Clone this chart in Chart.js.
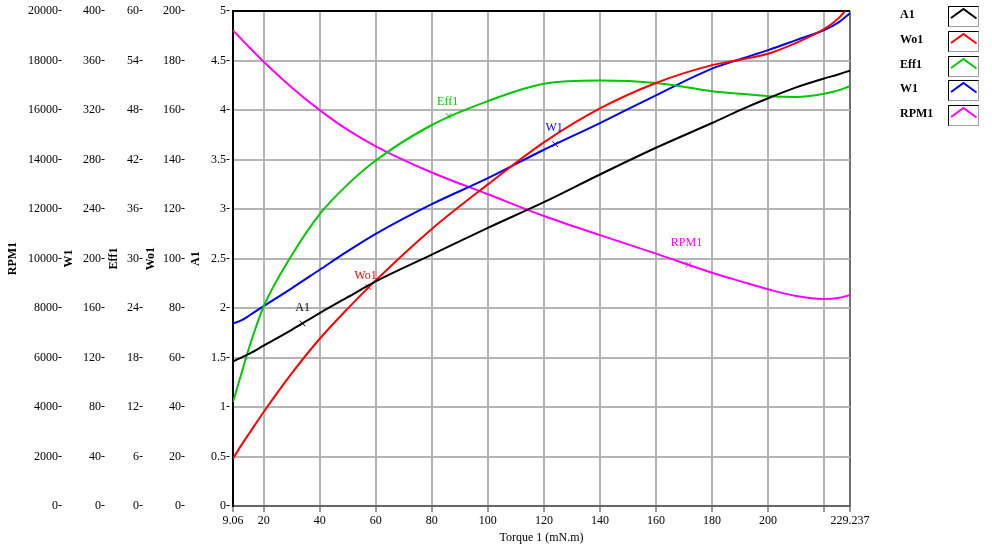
<!DOCTYPE html>
<html>
<head>
<meta charset="utf-8">
<title>Torque curves</title>
<script src="https://cdn.jsdelivr.net/npm/chart.js@4.4.1/dist/chart.umd.min.js"></script>
<style>
  html, body { margin: 0; padding: 0; background: #fff; }
  #wrap { width: 992px; height: 557px; position: relative; }
</style>
</head>
<body>
<div id="wrap"><canvas id="motorChart"></canvas></div>
<script>
  var torque = [9.06, 12, 15, 20, 30, 40, 50, 60, 80, 100, 120, 140, 160, 180, 190, 200, 210, 220, 225, 229.237];
  var a1   = [1.46, 1.50, 1.54, 1.62, 1.78, 1.95, 2.11, 2.27, 2.54, 2.81, 3.07, 3.35, 3.62, 3.87, 4.00, 4.12, 4.23, 4.32, 4.36, 4.40];
  var wo1  = [19.2, 24.5, 29.6, 38, 53.6, 67.6, 79.8, 91.2, 112, 130, 147, 160.7, 171, 178.2, 180.4, 182.8, 187.2, 192.8, 197, 202.4];
  var eff1 = [12.6, 16.0, 19.4, 24.2, 30.4, 35.4, 39.0, 41.9, 46.2, 49.1, 51.2, 51.6, 51.3, 50.3, 50.0, 49.7, 49.6, 50.0, 50.4, 50.9];
  var w1   = [147.6, 150.0, 154.2, 161.6, 176, 191, 206, 220, 244, 265, 288, 309.6, 332, 353.6, 361.2, 368.5, 376.6, 384.8, 390.8, 398.4];
  var rpm1 = [19220, 18880, 18520, 17960, 16920, 16000, 15200, 14540, 13480, 12600, 11720, 10950, 10200, 9430, 9090, 8760, 8485, 8365, 8410, 8525];

  // one labelled "x" marker on every curve
  var markTorque = [33.9, 57.4, 86, 124, 171.6];
  var markValue  = [1.845, 88.5, 47.3, 292.5, 9750];

  // x tick positions (220 has a tick but no label)
  var xTicks = [9.06, 20, 40, 60, 80, 100, 120, 140, 160, 180, 200, 220, 229.237];

  var tickFont = { family: '"Liberation Serif", serif', size: 12 };
  var titleFont = { family: '"Liberation Serif", serif', size: 12, weight: 'bold', lineHeight: 1 };

  // name, values, colour, axis, label offset
  var series = [
    { name: 'A1',   vals: a1,   color: '#000000', axis: 'yA1',  dx: 0,  dy: 16 },
    { name: 'Wo1',  vals: wo1,  color: '#ff0000', axis: 'yWo1', dx: -3, dy: 11 },
    { name: 'Eff1', vals: eff1, color: '#00c800', axis: 'yEff', dx: -1, dy: 14 },
    { name: 'W1',   vals: w1,   color: '#0000ff', axis: 'yW1',  dx: -1, dy: 16 },
    { name: 'RPM1', vals: rpm1, color: '#ff00ff', axis: 'yRpm', dx: -2, dy: 22 }
  ];

  var datasets = series.map(function (s) {
    return {
      label: s.name,
      data: torque.map(function (t, k) { return { x: t, y: s.vals[k] }; }),
      borderColor: s.color,
      backgroundColor: s.color,
      borderWidth: 2,
      pointRadius: 0,
      fill: false,
      cubicInterpolationMode: 'monotone',
      yAxisID: s.axis
    };
  });
  series.forEach(function (s, i) {
    datasets.push({
      label: s.name + ' mark',
      markOf: s.name,
      labelDx: s.dx,
      labelDy: s.dy,
      data: [{ x: markTorque[i], y: markValue[i] }],
      showLine: false,
      borderColor: s.color,
      backgroundColor: s.color,
      pointStyle: 'crossRot',
      pointRadius: 4,
      borderWidth: 1,
      yAxisID: s.axis
    });
  });

  function yAxis(title, max, weight, width, titlePad, tickPad) {
    return {
      type: 'linear',
      position: 'left',
      min: 0,
      max: max,
      weight: weight,
      ticks: {
        stepSize: max / 10,
        padding: tickPad,
        color: '#000',
        font: tickFont,
        callback: function (v) { return v + '-'; }
      },
      grid: { display: false, drawTicks: false },
      border: { display: false },
      title: { display: true, text: title, color: '#000', font: titleFont, padding: { top: titlePad, bottom: 0 } },
      afterFit: function (scale) { scale.width = width; }
    };
  }

  var scales = {
    x: {
      type: 'linear',
      min: 9.06,
      max: 229.237,
      afterBuildTicks: function (scale) {
        scale.ticks = xTicks.map(function (v) { return { value: v }; });
      },
      ticks: {
        autoSkip: false,
        maxRotation: 0,
        padding: 2,
        color: '#000',
        font: tickFont,
        callback: function (v) { return v === 220 ? '' : String(v); }
      },
      grid: {
        color: function (ctx) {
          if (ctx.tick && ctx.tick.value === 229.237) return '#707070';
          if (ctx.tick && ctx.tick.value === 9.06) return '#000';
          return '#b4b4b4';
        },
        lineWidth: 2,
        tickLength: 6,
        tickColor: '#333',
        tickWidth: 1
      },
      border: { display: true, color: '#666', width: 2 },
      title: {
        display: true,
        text: 'Torque 1 (mN.m)',
        color: '#000',
        font: { family: '"Liberation Serif", serif', size: 12 },
        padding: { top: 0, bottom: 7 }
      },
      afterFit: function (scale) { scale.height = 46; }
    },
    yRpm: yAxis('RPM1', 20000, 5, 62, 6.5, 0),
    yW1: yAxis('W1', 400, 4, 45, 1, 2),
    yEff: yAxis('Eff1', 60, 3, 38, 1, 2),
    yWo1: yAxis('Wo1', 200, 2, 44, 0, 4),
    yA1: yAxis('A1', 5, 1, 44, 0.5, 3)
  };
  // A1 carries the horizontal grid and the plot frame
  scales.yA1.grid = {
    display: true,
    drawTicks: false,
    lineWidth: 2,
    color: function (ctx) {
      return ctx.tick && ctx.tick.value === 5 ? '#000' : '#b4b4b4';
    }
  };
  scales.yA1.border = { display: true, color: '#000', width: 2 };

  // text next to each "x" marker
  var markLabels = {
    id: 'markLabels',
    afterDatasetsDraw: function (chart) {
      var ctx = chart.ctx;
      chart.data.datasets.forEach(function (ds, i) {
        if (!ds.markOf) return;
        var pt = chart.getDatasetMeta(i).data[0];
        if (!pt) return;
        ctx.save();
        ctx.font = '12px "Liberation Serif", serif';
        ctx.fillStyle = ds.borderColor;
        ctx.textAlign = 'center';
        ctx.textBaseline = 'middle';
        ctx.fillText(ds.markOf, pt.x + ds.labelDx, pt.y - ds.labelDy);
        ctx.restore();
      });
    }
  };

  // legend on the right: name, then a little framed box with a chevron
  var sideLegend = {
    id: 'sideLegend',
    afterDraw: function (chart) {
      var ctx = chart.ctx;
      var curves = chart.data.datasets.filter(function (d) { return !d.markOf; });
      curves.forEach(function (ds, i) {
        var cy = 15 + i * 24.8;
        var bx = 948.5, by = Math.round(cy - 9) + 0.5, bw = 30, bh = 20;
        ctx.save();
        ctx.font = 'bold 12px "Liberation Serif", serif';
        ctx.fillStyle = '#000';
        ctx.textAlign = 'left';
        ctx.textBaseline = 'middle';
        ctx.fillText(ds.label, 900, cy);

        ctx.lineWidth = 1;
        ctx.strokeStyle = '#a0a0a0';
        ctx.strokeRect(bx, by, bw, bh);
        ctx.strokeStyle = '#000';
        ctx.beginPath();
        ctx.moveTo(bx, by + bh);
        ctx.lineTo(bx, by);
        ctx.lineTo(bx + bw, by);
        ctx.stroke();

        ctx.strokeStyle = ds.borderColor;
        ctx.lineWidth = 2;
        ctx.beginPath();
        ctx.moveTo(bx + 2.5, by + 11.5);
        ctx.lineTo(bx + 15, by + 2.5);
        ctx.lineTo(bx + 28, by + 12);
        ctx.stroke();
        ctx.restore();
      });
    }
  };

  var ctx = document.getElementById('motorChart').getContext('2d');
  new Chart(ctx, {
    type: 'line',
    data: { datasets: datasets },
    options: {
      responsive: true,
      maintainAspectRatio: false,
      animation: false,
      layout: { padding: { left: 0, right: 142, top: 11, bottom: 5 } },
      plugins: {
        legend: { display: false },
        tooltip: { enabled: false }
      },
      scales: scales
    },
    plugins: [markLabels, sideLegend]
  });
</script>
</body>
</html>
